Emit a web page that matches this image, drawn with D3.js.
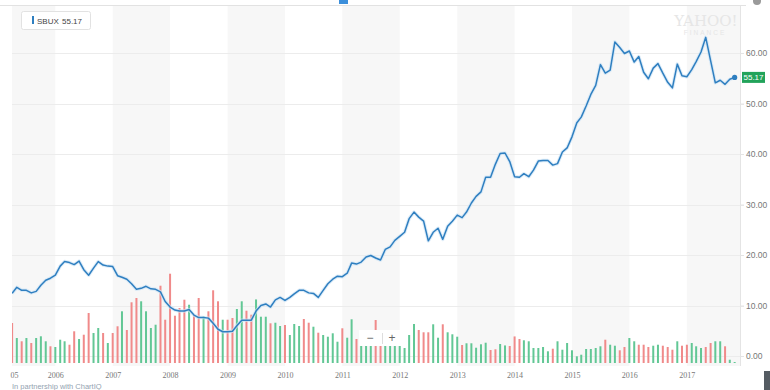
<!DOCTYPE html>
<html>
<head>
<meta charset="utf-8">
<script src="https://cdn.jsdelivr.net/npm/d3@7"></script>
<style>
    html, body { margin: 0; padding: 0; background: #fff; }
    svg { display: block; font-family: "Liberation Sans", Arial, sans-serif; }
</style>
</head>
<body>
<svg class="chart" width="770" height="390"></svg>
<script>

const ticker = 'SBUX';

// one point per month, Apr 2005 .. Nov 2017
const months = d3.timeMonth.range(new Date(2005, 3, 1), new Date(2017, 11, 1));

const prices = [
    12.4, 13.6, 13.0, 13.0, 12.5, 12.8, 14.0, 15.0, 15.4, 16.0,
    17.8, 18.7, 18.5, 18.1, 18.8, 17.1, 16.0, 17.4, 18.7, 18.0,
    17.8, 17.7, 15.9, 15.6, 15.2, 14.3, 13.2, 13.4, 13.8, 13.3,
    13.2, 12.7, 10.8, 9.7, 9.1, 8.9, 8.9, 9.2, 8.1, 7.6,
    7.6, 7.5, 6.5, 5.3, 4.8, 4.8, 4.9, 6.0, 7.1, 7.1,
    7.1, 8.9, 10.0, 10.3, 9.7, 11.1, 11.6, 11.0, 11.6, 12.3,
    13.0, 13.0, 12.5, 12.4, 11.6, 13.0, 14.3, 15.2, 15.8, 15.7,
    16.4, 18.4, 18.2, 18.6, 19.6, 19.9, 19.4, 19.0, 21.1, 21.6,
    22.9, 23.7, 24.5, 27.2, 28.5, 27.5, 26.7, 22.8, 24.5, 25.3,
    23.1, 25.7, 26.7, 27.9, 27.4, 28.5, 30.3, 31.6, 32.5, 35.4,
    35.4, 38.0, 40.1, 40.2, 38.5, 35.5, 35.4, 36.1, 35.5, 36.8,
    38.6, 38.7, 38.7, 37.8, 38.1, 40.4, 41.2, 43.4, 46.2, 47.3,
    49.5, 51.8, 53.6, 57.7, 56.0, 56.6, 62.2, 61.1, 59.9, 60.4,
    58.2, 59.3, 56.2, 54.9, 57.0, 57.9, 56.0, 54.2, 53.1, 57.8,
    55.5, 55.3, 56.7, 58.3, 60.2, 63.1, 58.5, 54.1, 54.6, 53.8,
    54.8, 55.17
];

// monthly volume, millions of shares
const volumes = [
    280, 175, 152, 175, 140, 175, 187, 152, 117, 112,
    163, 152, 128, 222, 168, 198, 350, 210, 245, 210,
    140, 210, 257, 362, 231, 425, 455, 432, 362, 245,
    268, 541, 303, 625, 331, 385, 443, 408, 338, 455,
    327, 362, 509, 432, 303, 303, 315, 378, 432, 366,
    338, 445, 324, 324, 278, 282, 259, 266, 196, 273,
    259, 308, 282, 254, 212, 196, 184, 208, 149, 243,
    177, 306, 168, 196, 182, 210, 301, 189, 175, 168,
    182, 154, 105, 196, 273, 231, 215, 215, 271, 177,
    271, 215, 201, 184, 126, 138, 138, 107, 131, 142,
    91, 96, 133, 123, 119, 186, 168, 159, 152, 105,
    105, 112, 82, 100, 152, 93, 140, 89, 47, 58,
    98, 98, 105, 117, 163, 128, 121, 89, 112, 175,
    152, 128, 128, 112, 121, 128, 121, 112, 93, 152,
    121, 128, 140, 117, 105, 112, 140, 152, 152, 117,
    23, 7
];

// u = up month (green bar), d = down month (red bar)
const moves = (
    'dududuuudu' + 'uuddudduud' + 'udduddduuu' + 'uddddddudd' +
    'udddudduud' + 'duuuduuduu' + 'udduduuuud' + 'uuduuudduu' +
    'uuuuuddduu' + 'duuuduuuuu' + 'dduuddduuu' + 'uuuduuuuuu' +
    'uuuuduuddu' + 'uddduudddu' + 'dduuudduud' + 'uu'
).split('');

const priceTicks = [0, 10, 20, 30, 40, 50, 60];
const yearTicks = [2006, 2007, 2008, 2009, 2010, 2011, 2012, 2013, 2014, 2015, 2016, 2017];
const shadedYears = [2005, 2007, 2009, 2011, 2013, 2015, 2017];

const main = {};

class Chart {

    svg;

    plot = { left: 12, right: 740, top: 6, bottom: 366 };

    colors = {
        line: '#2f7fc0',
        up: '#62c795',
        down: '#f08a8a',
        band: '#f7f7f7',
        grid: '#ececec',
        text: '#777'
    };

    x;
    y;
    yVol;

    constructor(ref) {

        this.svg = d3.select(ref);

        this.x = d3.scaleTime()
            .domain([new Date(2005, 0, 14), new Date(2017, 11, 5)])
            .range([0, 740]);

        this.y = d3.scaleLinear()
            .domain([0, 60])
            .range([356, 53]);

        this.yVol = d3.scaleLinear()
            .domain([0, 630])
            .range([363, 273]);

        this.svg.append('defs')
            .append('clipPath')
            .attr('id', 'plot-clip')
            .append('rect')
            .attr('x', this.plot.left)
            .attr('y', this.plot.top)
            .attr('width', this.plot.right - this.plot.left)
            .attr('height', this.plot.bottom - this.plot.top);

    }

    drawFrame() {

        const p = this.plot;

        const g = this.svg.append('g').attr('clip-path', 'url(#plot-clip)');

        g.selectAll('rect.band')
            .data(shadedYears)
            .join('rect')
            .classed('band', true)
            .attr('x', d => this.x(new Date(d, 0, 1)))
            .attr('y', p.top)
            .attr('width', d => this.x(new Date(d + 1, 0, 1)) - this.x(new Date(d, 0, 1)))
            .attr('height', p.bottom - p.top)
            .attr('fill', this.colors.band);

        this.svg.append('g')
            .selectAll('line')
            .data(priceTicks)
            .join('line')
            .attr('x1', p.left)
            .attr('x2', p.right + 4)
            .attr('y1', d => Math.round(this.y(d)) + 0.5)
            .attr('y2', d => Math.round(this.y(d)) + 0.5)
            .attr('stroke', this.colors.grid);

        // top rule and right edge
        this.svg.append('line')
            .attr('x1', 0).attr('x2', 746)
            .attr('y1', 5.5).attr('y2', 5.5)
            .attr('stroke', '#e2e2e2');

        this.svg.append('line')
            .attr('x1', p.right + 0.5).attr('x2', p.right + 0.5)
            .attr('y1', p.top).attr('y2', p.bottom)
            .attr('stroke', '#e4e4e4');

    }

    drawVolume() {

        this.svg.append('g')
            .attr('clip-path', 'url(#plot-clip)')
            .selectAll('rect')
            .data(main.data)
            .join('rect')
            .attr('x', d => this.x(d.date) - 1)
            .attr('y', d => this.yVol(d.volume))
            .attr('width', 2)
            .attr('height', d => this.yVol(0) - this.yVol(d.volume))
            .attr('fill', d => d.move == 'u' ? this.colors.up : this.colors.down);

        // zoom control sits on top of the bars
        const zc = this.svg.append('g');

        zc.append('rect')
            .attr('x', 359).attr('y', 330)
            .attr('width', 48).attr('height', 16)
            .attr('fill', '#fff');

        zc.append('text')
            .attr('x', 370).attr('y', 342)
            .attr('text-anchor', 'middle')
            .attr('font-size', 12)
            .attr('fill', '#666')
            .text('\u2212');

        zc.append('line')
            .attr('x1', 382.5).attr('x2', 382.5)
            .attr('y1', 333).attr('y2', 344)
            .attr('stroke', '#ddd');

        zc.append('text')
            .attr('x', 392).attr('y', 342)
            .attr('text-anchor', 'middle')
            .attr('font-size', 12)
            .attr('fill', '#666')
            .text('+');

    }

    drawPrice() {

        const line = d3.line()
            .x(d => this.x(d.date))
            .y(d => this.y(d.price));

        const g = this.svg.append('g').attr('clip-path', 'url(#plot-clip)');

        g.append('path')
            .datum(main.data)
            .attr('d', line)
            .attr('fill', 'none')
            .attr('stroke', '#cfe4f5')
            .attr('stroke-width', 3.5)
            .attr('stroke-linejoin', 'round')
            .attr('opacity', 0.7);

        g.append('path')
            .datum(main.data)
            .attr('d', line)
            .attr('fill', 'none')
            .attr('stroke', this.colors.line)
            .attr('stroke-width', 1.5)
            .attr('stroke-linejoin', 'round');

        const last = main.data[main.data.length - 1];

        this.svg.append('circle')
            .attr('cx', this.x(last.date))
            .attr('cy', this.y(last.price))
            .attr('r', 2.6)
            .attr('fill', this.colors.line);

        // current price tag
        this.svg.append('rect')
            .attr('x', 742)
            .attr('y', this.y(last.price) - 5.5)
            .attr('width', 23)
            .attr('height', 11)
            .attr('fill', '#22a35a');

        this.svg.append('text')
            .attr('x', 753.5)
            .attr('y', this.y(last.price) + 3)
            .attr('text-anchor', 'middle')
            .attr('font-size', 8)
            .attr('fill', '#fff')
            .text(last.price.toFixed(2));

    }

    drawAxes() {

        const yAxis = d3.axisRight(this.y)
            .tickValues(priceTicks)
            .tickFormat(d3.format('.2f'))
            .tickSize(4)
            .tickPadding(2);

        const gy = this.svg.append('g')
            .attr('transform', `translate(${this.plot.right},0)`)
            .call(yAxis);

        gy.select('.domain').remove();
        gy.selectAll('.tick line').attr('stroke', '#e4e4e4');
        gy.selectAll('.tick text')
            .attr('font-size', 8.5)
            .attr('font-family', '"Liberation Sans", Arial, sans-serif')
            .attr('fill', this.colors.text);

        const xAxis = d3.axisBottom(this.x)
            .tickValues(yearTicks.map(d => new Date(d, 0, 1)))
            .tickFormat(d3.timeFormat('%Y'))
            .tickSize(0)
            .tickPadding(3);

        const gx = this.svg.append('g')
            .attr('transform', 'translate(0,369)')
            .call(xAxis);

        gx.select('.domain').remove();
        gx.selectAll('.tick text')
            .attr('font-size', 8)
            .attr('font-family', '"Liberation Serif", "DejaVu Serif", serif')
            .attr('fill', this.colors.text);

        // 2005 label is cut by the left edge
        this.svg.append('text')
            .attr('x', 14.5)
            .attr('y', 378)
            .attr('text-anchor', 'middle')
            .attr('font-size', 8)
            .attr('font-family', '"Liberation Serif", "DejaVu Serif", serif')
            .attr('fill', this.colors.text)
            .text('05');

    }

    drawDecor() {

        const last = main.data[main.data.length - 1];

        // legend
        const lg = this.svg.append('g');

        lg.append('rect')
            .attr('x', 21.5).attr('y', 11.5)
            .attr('width', 69).attr('height', 18)
            .attr('rx', 2)
            .attr('fill', '#fff')
            .attr('stroke', '#e2e2e2');

        lg.append('rect')
            .attr('x', 32).attr('y', 16)
            .attr('width', 2).attr('height', 8)
            .attr('fill', this.colors.line);

        lg.append('text')
            .attr('x', 37).attr('y', 23.5)
            .attr('font-size', 8)
            .attr('fill', '#444')
            .text(ticker);

        lg.append('text')
            .attr('x', 62).attr('y', 23.5)
            .attr('font-size', 8)
            .attr('fill', '#444')
            .text(last.price.toFixed(2));

        // watermark
        this.svg.append('text')
            .attr('x', 706).attr('y', 26)
            .attr('text-anchor', 'middle')
            .attr('font-size', 15)
            .attr('font-family', '"DejaVu Serif", serif')
            .attr('fill', '#e6e6e6')
            .text('YAHOO!');

        this.svg.append('text')
            .attr('x', 705).attr('y', 35)
            .attr('text-anchor', 'middle')
            .attr('font-size', 6.5)
            .attr('letter-spacing', 2)
            .attr('fill', '#e6e6e6')
            .text('FINANCE');

        // bits of surrounding page
        this.svg.append('rect')
            .attr('x', 339).attr('y', 0)
            .attr('width', 9).attr('height', 4)
            .attr('fill', '#3c8fdb');

        this.svg.append('circle')
            .attr('cx', 757).attr('cy', 1)
            .attr('r', 4)
            .attr('fill', '#9a9a9a');

        this.svg.append('text')
            .attr('x', 12).attr('y', 389)
            .attr('font-size', 7.5)
            .attr('fill', '#93a3b1')
            .text('In partnership with ChartIQ');

        this.svg.append('rect')
            .attr('x', 764).attr('y', 371)
            .attr('width', 6).attr('height', 19)
            .attr('fill', '#555c63');

    }

}

function init() {

    main.data = months.map((d, i) => ({
        date: d,
        price: prices[i],
        volume: volumes[i],
        move: moves[i]
    }));

    main.chart = new Chart('svg.chart');

    main.chart.drawFrame();
    main.chart.drawVolume();
    main.chart.drawPrice();
    main.chart.drawAxes();
    main.chart.drawDecor();

}

init();

</script>
</body>
</html>
